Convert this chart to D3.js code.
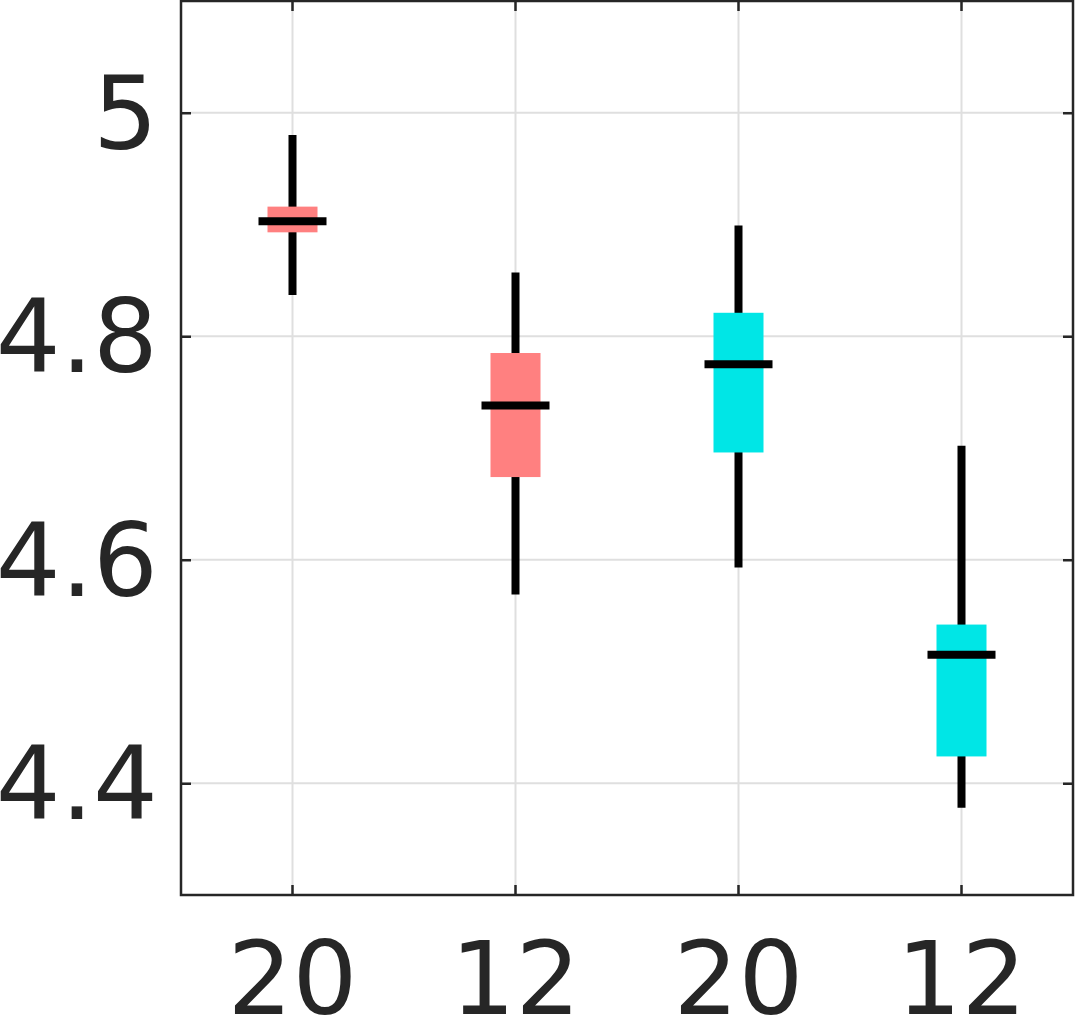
<!DOCTYPE html>
<html>
<head>
<meta charset="utf-8">
<script src="https://cdn.jsdelivr.net/npm/d3@7"></script>
<style>
  html, body { margin: 0; padding: 0; background: #fff; overflow: hidden; }
  svg { display: block; font-family: "DejaVu Sans", sans-serif; }
</style>
</head>
<body>
<script>
// values
const labels = ["20", "12", "20", "12"];
const series = ["A", "A", "B", "B"];
const whiskerLow = [4.837, 4.569, 4.593, 4.378];
const q1 = [4.893, 4.674, 4.696, 4.424];
const median = [4.903, 4.738, 4.775, 4.515];
const q3 = [4.916, 4.785, 4.821, 4.542];
const whiskerHigh = [4.980, 4.857, 4.899, 4.702];
const yTicks = [4.4, 4.6, 4.8, 5];

const width = 1076;
const height = 1016;
const plot = { left: 181, right: 1073, top: 1, bottom: 895 };

const idx = labels.map((d, i) => i);

const x = d3.scaleBand()
  .domain(idx)
  .range([plot.left, plot.right]);

const y = d3.scaleLinear()
  .domain([4.3, 5.1])
  .range([plot.bottom, plot.top]);

const color = d3.scaleOrdinal()
  .domain(["A", "B"])
  .range(["#ff8080", "#00e6e6"]);

const svg = d3.select("body")
  .append("svg")
  .attr("width", width)
  .attr("height", height);

// grid
const grid = svg.append("g").attr("stroke", "#dfdfdf").attr("stroke-width", 2);
grid.selectAll(".gx")
  .data(idx)
  .join("line")
  .attr("x1", d => x(d) + x.bandwidth() / 2)
  .attr("x2", d => x(d) + x.bandwidth() / 2)
  .attr("y1", plot.top)
  .attr("y2", plot.bottom);
grid.selectAll(".gy")
  .data(yTicks)
  .join("line")
  .attr("x1", plot.left)
  .attr("x2", plot.right)
  .attr("y1", d => y(d))
  .attr("y2", d => y(d));

// boxes
const boxW = 50;
const medW = 68;
const box = svg.append("g")
  .selectAll("g")
  .data(idx)
  .join("g")
  .attr("transform", d => `translate(${x(d) + x.bandwidth() / 2},0)`);

box.append("line")
  .attr("y1", d => y(whiskerLow[d]))
  .attr("y2", d => y(whiskerHigh[d]))
  .attr("stroke", "#000")
  .attr("stroke-width", 8);

box.append("rect")
  .attr("x", -boxW / 2)
  .attr("width", boxW)
  .attr("y", d => y(q3[d]))
  .attr("height", d => y(q1[d]) - y(q3[d]))
  .attr("fill", d => color(series[d]));

box.append("line")
  .attr("x1", -medW / 2)
  .attr("x2", medW / 2)
  .attr("y1", d => y(median[d]))
  .attr("y2", d => y(median[d]))
  .attr("stroke", "#000")
  .attr("stroke-width", 8);

// axes
const fmt = d3.format("~g");
const axisColor = "#262626";

const styleAxis = g => {
  g.select(".domain").remove();
  g.selectAll(".tick line").attr("stroke", axisColor).attr("stroke-width", 2.5);
  g.selectAll(".tick text").attr("fill", axisColor);
  g.attr("font-size", 102).attr("font-family", "DejaVu Sans, sans-serif");
};

svg.append("g")
  .attr("transform", `translate(${plot.left},0)`)
  .call(d3.axisLeft(y).tickValues(yTicks).tickFormat(fmt).tickSize(-10).tickPadding(23))
  .call(styleAxis)
  .call(g => g.selectAll(".tick text").attr("dy", "0.35em"));

svg.append("g")
  .attr("transform", `translate(${plot.right},0)`)
  .call(d3.axisRight(y).tickValues(yTicks).tickFormat("").tickSize(-10))
  .call(styleAxis);

svg.append("g")
  .attr("transform", `translate(0,${plot.bottom})`)
  .call(d3.axisBottom(x).tickFormat(i => labels[i]).tickSize(-10).tickPadding(47))
  .call(styleAxis);

svg.append("g")
  .attr("transform", `translate(0,${plot.top})`)
  .call(d3.axisTop(x).tickFormat("").tickSize(-10))
  .call(styleAxis);

// frame
svg.append("rect")
  .attr("x", plot.left)
  .attr("y", plot.top)
  .attr("width", plot.right - plot.left)
  .attr("height", plot.bottom - plot.top)
  .attr("fill", "none")
  .attr("stroke", axisColor)
  .attr("stroke-width", 2.5);
</script>
</body>
</html>
